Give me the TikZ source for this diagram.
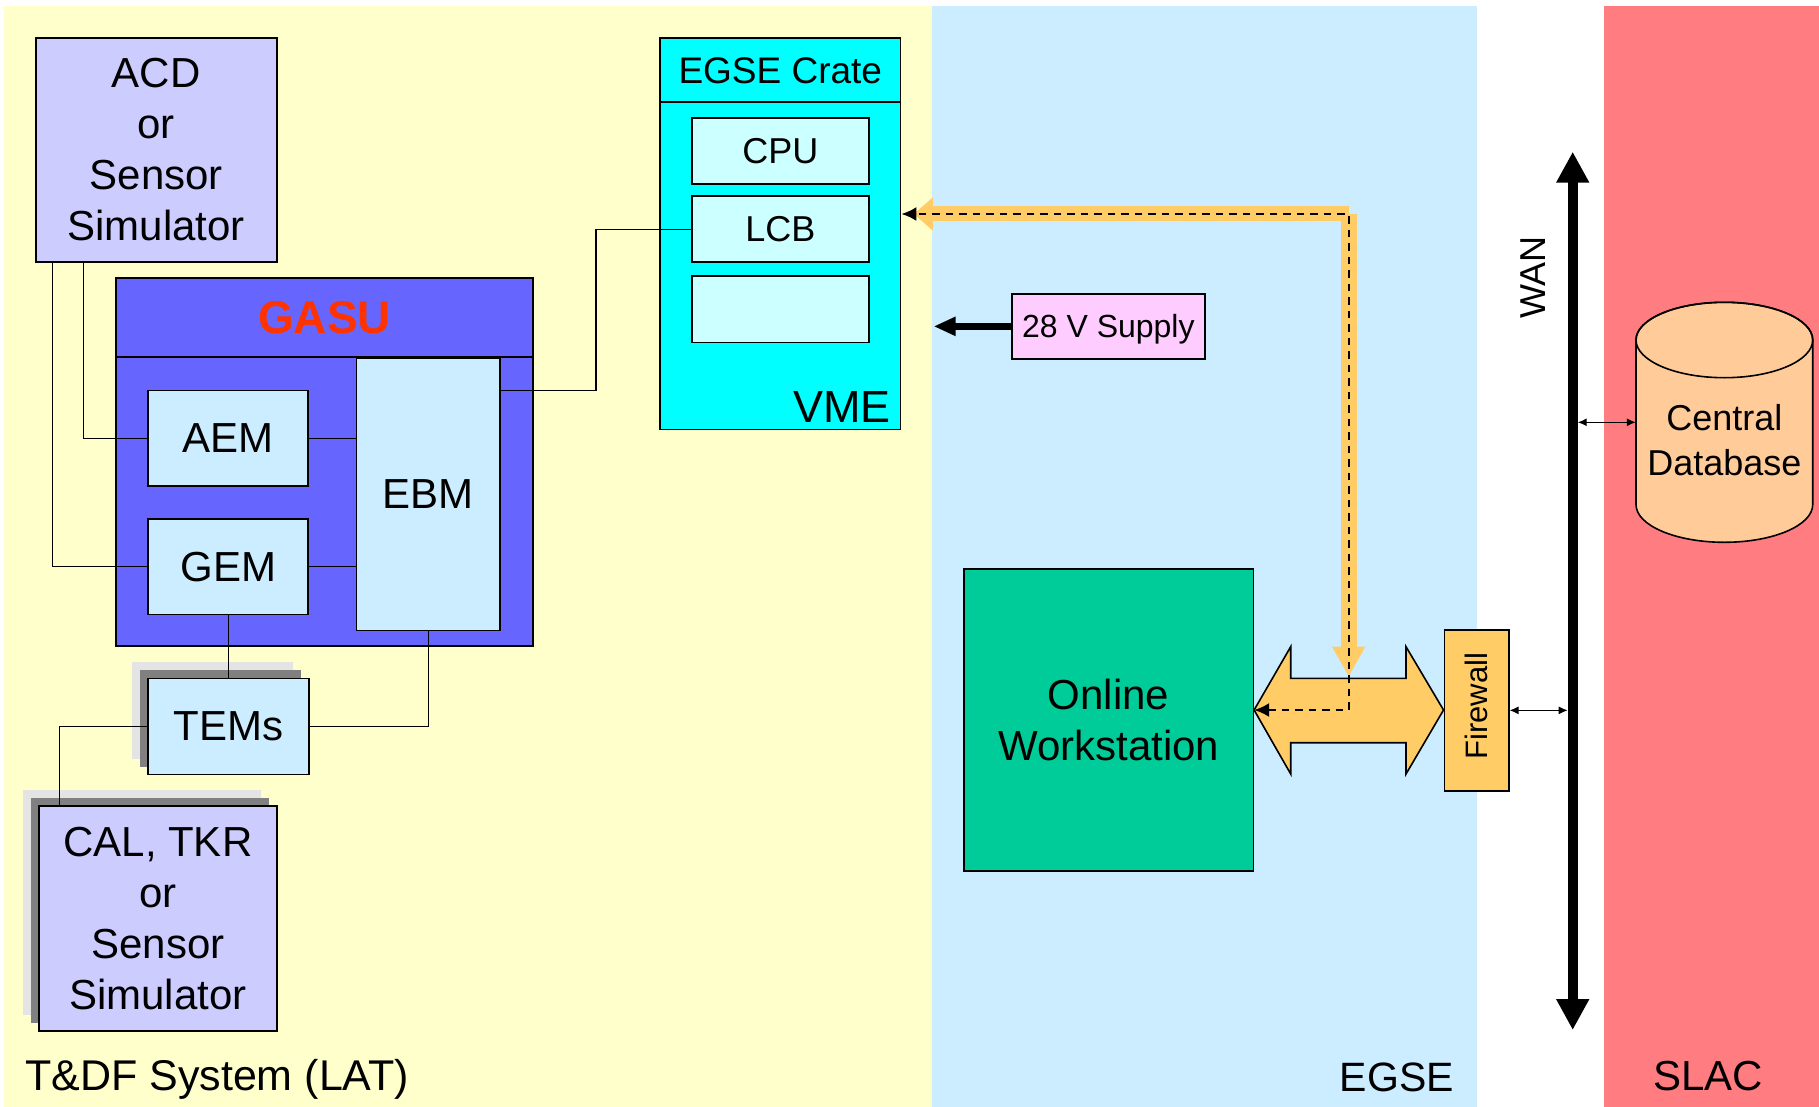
\documentclass[tikz,border=0pt]{standalone}
\usepackage{fontspec}
\setmainfont{Liberation Sans}
\usetikzlibrary{arrows.meta,calc}
\definecolor{bgyellow}{HTML}{FFFFCC}
\definecolor{bgblue}{HTML}{CCECFF}
\definecolor{bgred}{HTML}{FF7C80}
\definecolor{lav}{HTML}{CCCCFF}
\definecolor{gasucol}{HTML}{6666FF}
\definecolor{gasutext}{HTML}{FF3300}
\definecolor{modblue}{HTML}{CCECFF}
\definecolor{vmecol}{HTML}{00FFFF}
\definecolor{cellcol}{HTML}{CCFFFF}
\definecolor{supplycol}{HTML}{FFCCFF}
\definecolor{wscol}{HTML}{00CC99}
\definecolor{orng}{HTML}{FFCC66}
\definecolor{dbcol}{HTML}{FFCC99}
\definecolor{shdark}{HTML}{808080}
\definecolor{shlight}{HTML}{E4E4E4}
\newcommand{\fsz}[2]{\fontsize{#1}{#2}\selectfont}
\begin{document}
\begin{tikzpicture}[x=1pt,y=1pt,
  box/.style={draw=black, line width=1.6pt, rectangle, inner sep=0pt, align=center},
  wire/.style={draw=black, line width=1.2pt},
  lbl/.style={inner sep=0pt},
  smallarr/.style={line width=1.3pt, {Latex[length=9pt,width=8pt]}-{Latex[length=9pt,width=8pt]}}]
\useasboundingbox (0,0) rectangle (1819,-1107);
\fill[white] (0,0) rectangle (1819,-1107);
% background panels
\fill[bgyellow] (4,-6) rectangle (932,-1107);
\fill[bgblue] (932,-6) rectangle (1477,-1107);
\fill[bgred] (1604,-6) rectangle (1819,-1107);

% shadows
\fill[shlight] (132,-662.3) rectangle (293,-758.7);
\fill[shdark] (140,-670) rectangle (301,-766.7);
\fill[shlight] (23,-790.3) rectangle (261,-1015);
\fill[shdark] (31,-798.3) rectangle (268.7,-1022.7);

% LAT side
\node[box, fill=lav, minimum width=241.1pt, minimum height=224.1pt, font=\fsz{42}{51}] (acd) at (156.25,-149.95) {ACD\\or\\Sensor\\Simulator};
\node[box, fill=gasucol, minimum width=417pt, minimum height=368pt] (gasu) at (324.5,-462) {};
\node[box, fill=gasucol, minimum width=417pt, minimum height=79pt, font=\bfseries\fsz{46}{55}, text=gasutext] (gasuhead) at (324.5,-317.5) {GASU};
\node[box, fill=modblue, minimum width=160pt, minimum height=95.1pt, font=\fsz{42}{51}] (aem) at (228.2,-438.15) {AEM};
\node[box, fill=modblue, minimum width=160pt, minimum height=95.5pt, font=\fsz{42}{51}] (gem) at (228.2,-566.55) {GEM};
\node[box, fill=modblue, minimum width=143.6pt, minimum height=272.4pt, font=\fsz{42}{51}] (ebm) at (428.2,-494.2) {EBM};
\node[box, fill=modblue, minimum width=161pt, minimum height=96pt, font=\fsz{42}{51}] (tems) at (228.2,-726.3) {TEMs};
\node[box, fill=lav, minimum width=237.7pt, minimum height=224.7pt, font=\fsz{42}{51}] (cal) at (157.85,-918.35) {CAL, TKR\\or\\Sensor\\Simulator};

% EGSE crate
\node[box, fill=vmecol, minimum width=240.6pt, minimum height=391pt] (vme) at (780.3,-233.8) {};
\draw[line width=1.6pt] (vme.west |- 0,-102.3) -- (vme.east |- 0,-102.3);
\node[lbl, font=\fsz{37}{44}] (crate) at (780.3,-70.3) {EGSE Crate};
\node[box, fill=cellcol, minimum width=176.7pt, minimum height=66pt, font=\fsz{36}{43}] (cpu) at (780.35,-151) {CPU};
\node[box, fill=cellcol, minimum width=176.7pt, minimum height=66.3pt, font=\fsz{36}{43}] (lcb) at (780.35,-229.15) {LCB};
\node[box, fill=cellcol, minimum width=176.7pt, minimum height=66.3pt] (blank) at (780.35,-309.15) {};
\node[lbl, anchor=base east, font=\fsz{45}{54}] (vmelbl) at (891,-422.7) {VME};

% supply
\node[box, fill=supplycol, minimum width=193.3pt, minimum height=64.7pt, font=\fsz{32}{38}, text depth=0pt] (supply) at (1108.35,-326.35) {28 V Supply};
\coordinate (supend) at (933.7,-326.35);
\draw[line width=7pt, -{Triangle[width=18pt,length=22pt]}] (supply.west) -- (supend);

% workstation, firewall
\node[box, fill=wscol, minimum width=289.3pt, minimum height=301.7pt, font=\fsz{42}{51.6}] (ws) at (1108.65,-719.85) {Online\\Workstation};
\node[box, fill=orng, minimum width=64.4pt, minimum height=160.7pt] (fw) at (1476.5,-710.35) {};
\node[lbl, rotate=90, font=\fsz{31}{37}] (fwtext) at ($(fw.center)+(0,4)$) {Firewall};

% big double arrow
\coordinate (dc) at (1348.7,-710);
\coordinate (tc) at (1348.7,-214);
\draw[line width=1.6pt, fill=orng, line join=miter]
  (ws.east |- dc) -- (1290.7,-646.7) -- (1290.7,-678.3) -- (1406,-678.3) -- (1406,-646.7)
  -- (fw.west |- dc) -- (1406,-774) -- (1406,-742.7) -- (1290.7,-742.7) -- (1290.7,-774) -- cycle;

% orange band arrows
\draw[orng, line width=15pt, -{Triangle[width=32pt,length=19pt]}] (tc) -- ($(vme.east |- tc)+(12.4,0)$);
\draw[orng, line width=16pt, -{Triangle[width=31pt,length=30pt]}] (tc) -- ($(dc)+(0,33.3)$);
% dashed control path
\draw[line width=2pt, dash pattern=on 7.5pt off 6pt, {Latex[length=15pt,width=14pt]}-{Latex[length=15pt,width=14pt]}]
  (ws.east |- dc) -- (dc) -- (tc) -- (vme.east |- tc);

% WAN
\coordinate (wantop) at (1572.7,-151.7);
\coordinate (wanbot) at (1572.7,-1030);
\draw[line width=10pt, {Triangle[width=31pt,length=31pt]}-{Triangle[width=31pt,length=31pt]}] (wantop) -- (wanbot);
\node[lbl, rotate=90, font=\fsz{36}{43}] (wan) at (1533.3,-277.5) {WAN};

% database
\node[minimum width=176.7pt, minimum height=240pt, inner sep=0pt] (db) at (1724.35,-422.3) {};
\draw[line width=1.6pt, fill=dbcol] (1636,-504.6) arc[start angle=180, end angle=360, x radius=88.35pt, y radius=37.7pt]
  -- (1812.7,-340) arc[start angle=0, end angle=180, x radius=88.35pt, y radius=37.7pt] -- cycle;
\draw[line width=1.6pt] (1724.35,-340) ellipse [x radius=88.35pt, y radius=37.7pt];
\node[lbl, align=center, font=\fsz{36}{45}] (dbtext) at (1724.35,-440) {Central\\Database};

\draw[smallarr] (fw.east) -- ($(fw.east -| wantop)+(-5,0)$);
\draw[smallarr] (db.west) -- ($(db.west -| wantop)+(5,0)$);

% wires
\draw[wire] ($(acd.south west)+(17.2,0)$) |- (gem.west);
\draw[wire] ($(acd.south west)+(48.6,0)$) |- (aem.west);
\draw[wire] (aem.east) -- (aem.east -| ebm.west);
\draw[wire] (gem.east) -- (gem.east -| ebm.west);
\coordinate (j1) at (596,-390.2);
\draw[wire] (ebm.east |- j1) -- (j1) |- (lcb.west);
\draw[wire] (gem.south) -- (tems.north);
\draw[wire] (ebm.south) |- (tems.east);
\draw[wire] (tems.west) -| ($(cal.north west)+(21.3,0)$);

% panel labels
\node[lbl, anchor=base west, font=\fsz{43}{51}] (latlbl) at (25,-1090) {T\&DF System (LAT)};
\node[lbl, anchor=base east, font=\fsz{41}{49}] (egselbl) at (1454,-1091) {EGSE};
\node[lbl, anchor=base, font=\fsz{42}{50}] (slaclbl) at (1708,-1090) {SLAC};
\end{tikzpicture}
\end{document}
